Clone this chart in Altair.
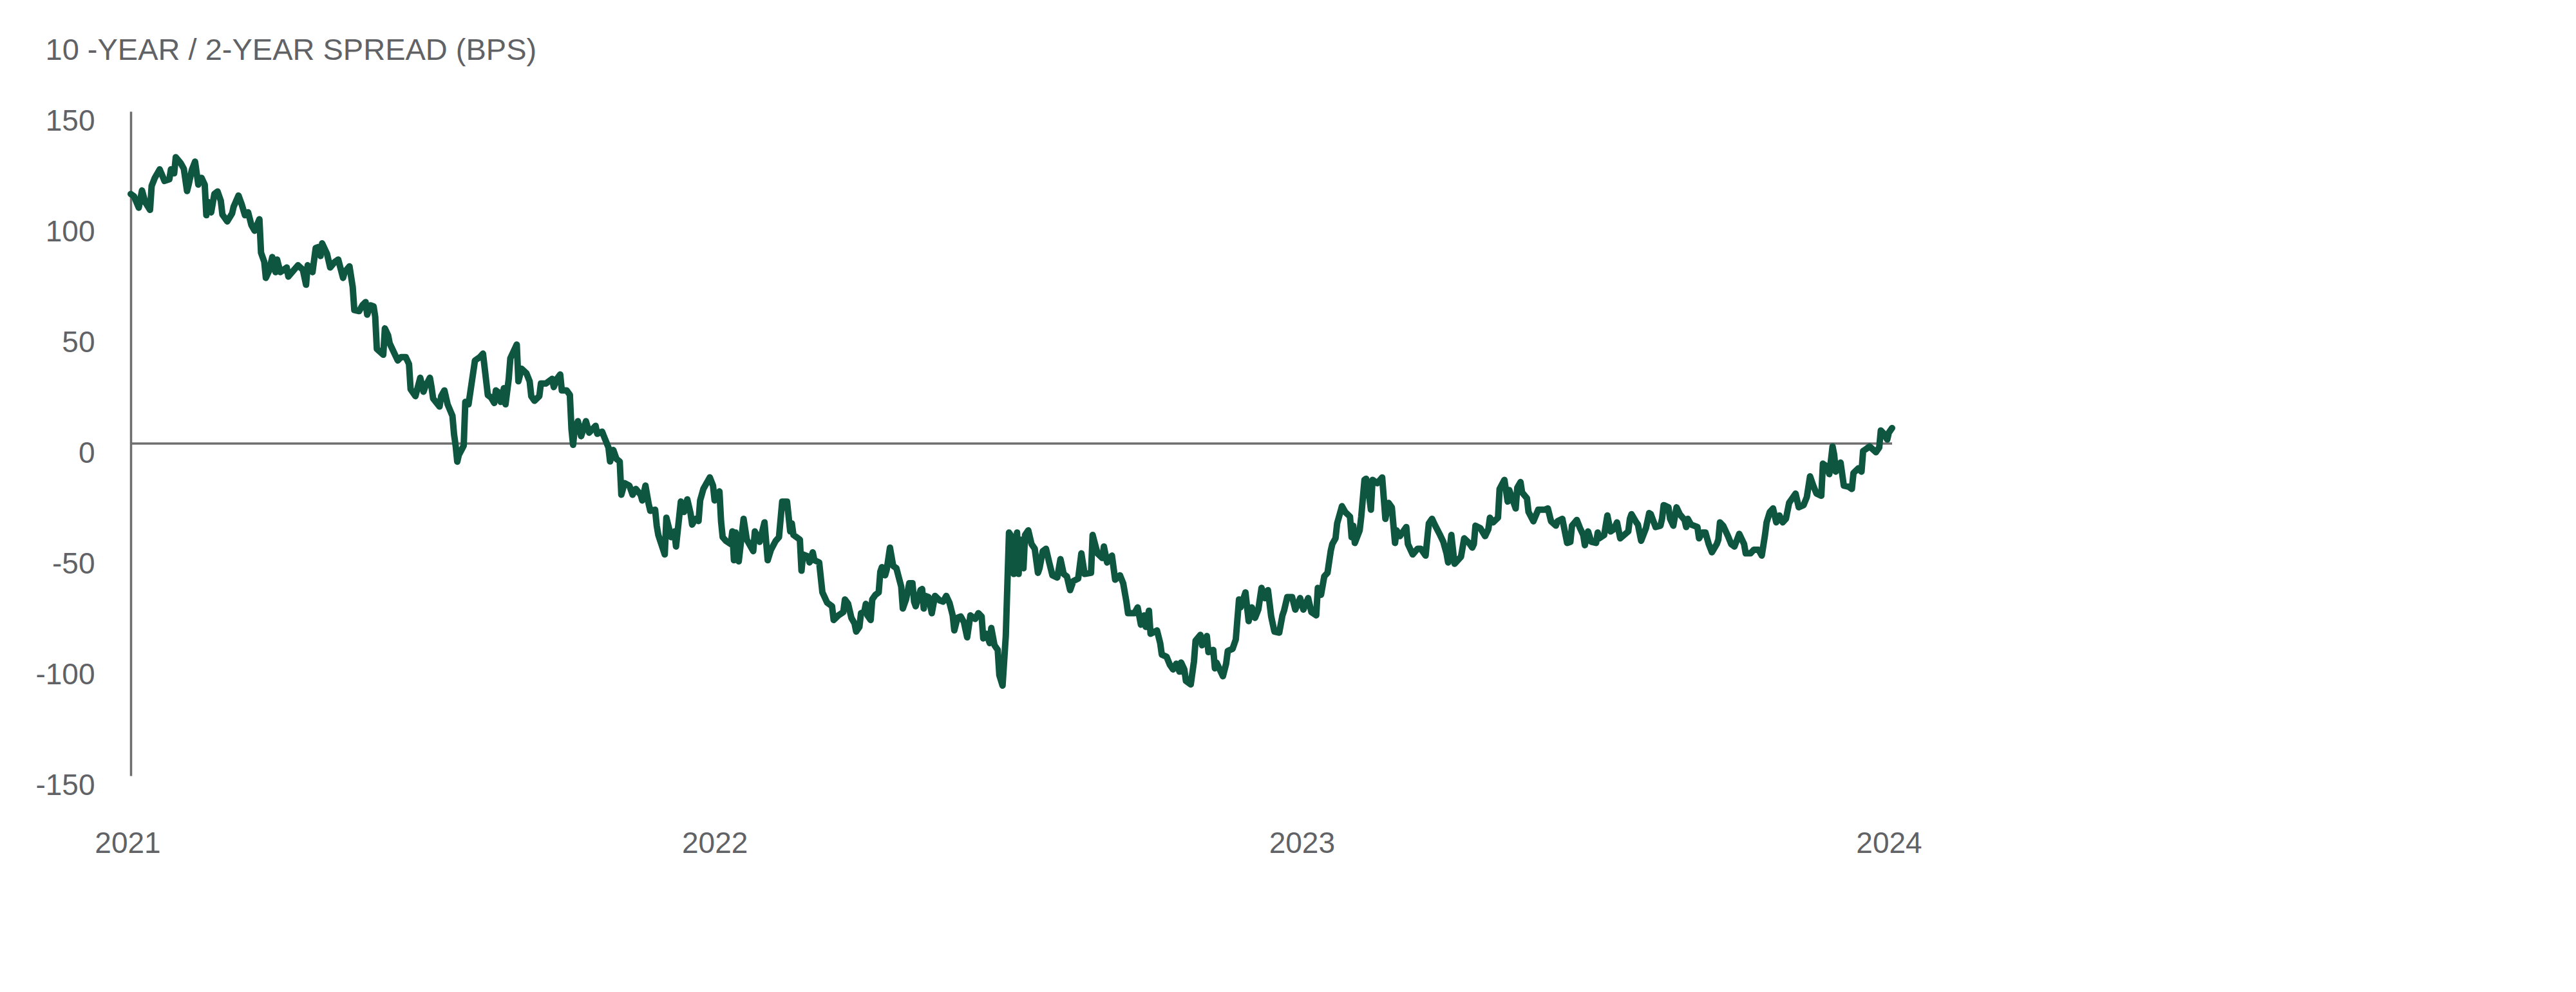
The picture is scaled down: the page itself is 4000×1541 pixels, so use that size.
import altair as alt
import pandas as pd

# Days since 2021-01-01 and spread in bps
day_offsets = [
    0, 2, 5, 7, 9, 12, 13, 15, 18, 21, 24, 25, 27, 28, 31, 33, 35, 36, 38, 40,
    42, 44, 46, 47, 48, 50, 52, 54, 56, 57, 60, 63, 64, 67, 69, 71, 73, 75, 77, 80,
    81, 83, 84, 86, 88, 90, 91, 93, 97, 98, 101, 104, 107, 109, 110, 113, 115, 117, 118, 119,
    122, 124, 127, 129, 132, 133, 136, 138, 139, 142, 144, 146, 147, 149, 151, 152, 153, 157, 158, 160,
    161, 164, 166, 168, 171, 173, 174, 177, 180, 182, 183, 186, 187, 188, 192, 193, 195, 197, 200, 201,
    202, 203, 204, 207, 208, 210, 214, 217, 219, 222, 224, 226, 227, 229, 230, 232, 233, 235, 236, 240,
    241, 243, 246, 248, 249, 251, 254, 255, 258, 259, 262, 263, 265, 267, 268, 271, 273, 274, 275,
    276, 278, 280, 283, 285, 289, 290, 293, 295, 297, 298, 300, 302, 304, 305, 307, 310, 312, 314, 317,
    318, 320, 322, 323, 326, 327, 328, 332, 333, 336, 338, 339, 342, 344, 346, 348, 349, 351, 353, 354,
    356, 360, 362, 363, 366, 367, 368, 370, 373, 374, 375, 376, 378, 381, 383, 387, 388, 391, 394, 396,
    398, 401, 403, 405, 408, 410, 411, 412, 416, 417, 418, 421, 422, 424, 425, 428, 430, 433, 436, 437,
    440, 443, 444, 446, 448, 450, 451, 453, 454, 456, 457, 458, 460, 461, 463, 465, 466, 467, 469, 470,
    472, 474, 476, 479, 480, 482, 484, 486, 487, 488, 491, 492, 493, 494, 496, 498, 500, 503, 505, 507,
    509, 511, 512, 514, 516, 518, 520, 522, 525, 527, 529, 530, 532, 534, 535, 537, 539, 540, 542, 544,
    546, 547, 549, 551,
    552, 553, 555, 556, 558, 560, 562, 564, 565, 567, 569, 571, 573, 576, 578, 580, 582, 584, 586, 589,
    591, 593, 597, 598, 601, 604, 605, 607, 610, 612, 615, 617, 619, 620, 624, 626, 628, 630, 631, 633,
    634, 638, 640, 641, 644, 646, 648, 650, 652, 653, 655, 656, 659, 661, 662, 665, 666, 669, 670, 673,
    674, 675, 679, 681, 682, 685, 687, 689, 690, 693, 695, 697, 699, 701, 703, 705, 707, 709, 711, 714,
    716, 717, 719, 722, 724, 727, 729, 732, 734, 737, 738, 740, 742, 744, 746, 747, 749, 750, 752, 753,
    755, 758, 759, 760, 761, 764, 765, 767, 768, 769, 771, 772, 775, 778, 780, 782, 784, 786, 787, 789,
    793, 794, 797, 800, 802, 805, 807, 809, 811, 814, 816, 818, 819, 821, 823, 825,
    827, 829, 832, 834, 835, 836, 839, 842, 844, 845, 847, 850, 851, 854, 856, 857, 861, 862, 864, 865,
    868, 869, 872, 875, 877, 879, 881, 883, 886, 887, 890, 893, 895, 896, 899, 901, 903, 904, 906, 908,
    911, 912, 913, 916, 918, 920, 922, 924, 926, 931, 932, 933, 936, 937, 939, 942, 944, 945, 948, 951,
    952, 953, 956, 957, 959, 961, 963, 966, 967, 968, 970, 974, 975, 977, 979, 981, 983, 986, 987, 988,
    990, 993, 995, 997, 1000, 1003, 1004, 1007, 1009, 1012, 1014, 1016, 1017, 1019, 1021, 1023, 1025, 1027, 1029, 1031,
    1035, 1037, 1040, 1042, 1044, 1046, 1048, 1051, 1052, 1054, 1056, 1058, 1059, 1060, 1063, 1065, 1068, 1070, 1071, 1074,
    1076, 1077, 1079, 1081, 1085, 1087, 1088, 1090, 1092, 1093, 1095,
]

spread_bps = [
    112.7, 111.7, 106.5, 114.3, 109.0, 105.5, 116.3, 120.0, 123.8, 118.6, 119.3, 123.8, 122.0, 129.3, 126.7, 124.1, 114.0, 116.9, 123.6, 127.3,
    116.9, 120.0, 116.9, 103.1, 109.1, 104.4, 112.7, 113.8, 109.6, 103.4, 100.3, 103.9, 107.0, 112.0, 108.0, 103.1, 104.4, 98.7, 96.1, 101.3,
    86.2, 82.1, 74.8, 78.0, 84.2, 77.4, 83.1, 77.4, 79.5, 75.4, 78.0, 80.5, 78.5, 71.7, 80.5, 77.4, 88.3, 88.8, 84.7, 90.4,
    85.7, 79.5, 82.1, 83.1, 74.8, 77.4, 80.0, 70.7, 60.3, 59.8, 62.4, 63.9, 58.2, 62.4, 61.9, 57.2, 42.7, 40.1, 52.0, 48.9,
    45.2, 40.6, 37.5, 39.0, 39.0, 35.9, 24.5, 21.4, 29.7, 23.4, 25.5, 29.7, 25.5, 20.3, 16.7, 21.4, 24.0, 17.7, 12.5, 4.2,
    -1.0, -8.2, -5.1, -1.0, 18.8, 17.7, 37.5, 39.0, 40.6, 21.9, 20.8, 18.3, 24.0, 22.9, 18.8, 25.0, 17.7, 29.2, 38.5, 44.7,
    28.1, 33.8, 31.7, 28.1, 21.4, 19.3, 21.4, 27.1, 27.1, 27.6, 29.2, 25.5, 29.2, 31.2, 24.0, 24.0, 22.0, 6.5, -0.6,
    6.5, 10.1, 3.3, 10.1, 4.9, 8.0, 4.4, 5.4, 1.8, -1.8, -8.1, -2.9, -7.0, -8.1, -23.1, -17.9, -19.0, -23.1, -20.5, -23.1,
    -25.7, -19.0, -27.3, -30.4, -29.9, -37.1, -41.3, -50.1, -33.5, -42.3, -39.7, -46.5, -26.2, -30.9, -25.2, -31.4, -36.6, -34.0, -35.0, -25.7,
    -20.5, -15.3, -19.0, -25.7, -21.6, -35.1, -42.3, -43.9, -45.4, -39.7, -52.7, -40.2, -53.2, -34.0, -43.4, -48.6, -39.7, -44.4, -35.6, -52.7,
    -48.0, -43.9, -42.3, -26.2, -26.2, -39.7, -36.1, -41.3, -43.4, -57.4, -50.1, -51.0, -53.7, -49.1, -52.7, -53.7, -67.2, -71.9, -73.5, -79.7,
    -77.6, -76.1, -70.4, -72.4, -78.7, -81.3, -84.9, -82.8, -76.6, -76.1, -72.4, -77.6, -79.7, -70.4, -68.3, -67.2, -57.9, -55.8, -59.5, -56.9,
    -47.0, -55.3, -56.3, -64.6, -74.5, -70.4, -63.1, -63.1, -71.4, -73.5, -66.2, -65.7, -74.5, -68.8, -69.3, -76.6, -68.8, -70.9, -71.4, -68.8,
    -71.9, -77.6, -84.4, -78.7, -78.1, -80.7, -87.5, -77.6, -79.2, -76.6, -78.1, -88.0, -85.9, -90.1, -83.3, -91.1, -93.2, -104.6, -109.3, -87.0,
    -40.2, -41.3, -58.9, -40.2,
    -58.9, -43.4, -56.3, -41.3, -39.2, -45.4, -47.5, -58.4, -56.3, -48.6, -47.5, -53.7, -59.5, -60.5, -52.2, -58.9, -60.0, -66.2, -62.1, -61.0,
    -49.6, -58.9, -58.4, -41.3, -49.6, -51.7, -46.5, -53.7, -50.6, -61.5, -59.5, -63.1, -71.4, -76.6, -76.6, -74.0, -81.8, -77.6, -82.8, -75.5,
    -85.9, -84.4, -90.1, -95.3, -96.3, -99.9, -102.0, -99.4, -103.0, -98.9, -102.0, -107.2, -108.8, -98.4, -89.0, -86.4, -91.1, -86.9, -94.2, -93.2,
    -101.5, -98.9, -105.1, -99.4, -93.7, -92.7, -88.5, -70.4, -74.0, -67.2, -80.2, -74.0, -78.7, -75.0, -65.2, -69.8, -66.2, -78.1, -84.9, -85.4,
    -77.6, -75.5, -69.3, -69.3, -75.0, -69.8, -75.0, -69.8, -76.1, -77.6, -65.2, -68.3, -60.0, -58.4, -48.6, -45.4, -42.8, -36.1, -30.9, -28.3,
    -30.9, -33.0, -42.3, -37.1, -44.9, -39.2, -33.0, -16.4, -15.9, -18.4, -29.9, -16.4, -17.9, -15.3, -34.0, -26.8, -28.8, -44.9, -39.2, -41.8,
    -37.7, -45.4, -50.1, -47.5, -47.5, -50.6, -36.1, -34.0, -37.1, -41.3, -44.4, -49.6, -53.7, -41.3, -54.3, -52.7,
    -51.1, -42.8, -44.9, -47.0, -45.4, -37.1, -38.2, -41.8, -38.7, -33.5, -35.6, -33.5, -20.5, -16.4, -26.2, -21.0, -29.3, -20.0, -17.4, -22.1,
    -24.7, -30.9, -35.1, -29.9, -29.9, -29.9, -29.3, -35.1, -37.1, -35.1, -34.0, -44.9, -44.4, -37.1, -34.5, -38.2, -41.3, -45.9, -39.7, -44.4,
    -44.9, -40.2, -42.8, -41.3, -32.5, -39.7, -38.7, -35.6, -42.8, -39.7, -34.0, -31.9, -35.6, -36.6, -43.9, -38.2, -31.4, -31.9, -37.7, -37.1,
    -34.0, -27.8, -28.8, -34.0, -37.1, -28.8, -31.9, -34.5, -37.7, -34.0, -36.6, -37.7, -42.8, -40.2, -40.2, -45.4, -49.1, -45.4, -43.4, -35.6,
    -37.1, -41.8, -45.4, -46.5, -40.8, -45.4, -49.6, -49.6, -48.0, -48.0, -50.6, -41.3, -35.6, -30.9, -29.3, -35.6, -32.5, -35.6, -34.0, -26.8,
    -22.6, -28.8, -27.8, -24.2, -14.8, -19.0, -22.6, -23.6, -9.1, -10.1, -13.8, -1.3, -5.0, -12.7, -8.6, -19.0, -19.5, -20.5, -13.3, -11.2,
    -12.7, -3.4, -2.4, -1.3, -3.9, -1.8, 5.9, 4.4, 1.8, 4.9, 7.0,
]

year_ticks = [2021, 2022, 2023, 2024]
y_ticks = [-150, -100, -50, 0, 50, 100, 150]
title_text = "10 -YEAR / 2-YEAR SPREAD (BPS)"

assert len(day_offsets) == len(spread_bps)

dates = pd.Timestamp("2021-01-01") + pd.to_timedelta(day_offsets, unit="D")
df = pd.DataFrame({"date": dates, "spread": spread_bps})
zero_df = pd.DataFrame({"zero": [0]})

FONT = "Liberation Sans"
TEXT = "#606266"
GRAY = "#6e6e6e"
GREEN = "#0f5641"

x_scale = alt.Scale(
    domain=[alt.DateTime(year=year_ticks[0], month=1, date=1),
            alt.DateTime(year=year_ticks[-1], month=1, date=1)],
    nice=False,
)
y_scale = alt.Scale(domain=[y_ticks[0], y_ticks[-1]], nice=False)

x_axis = alt.Axis(
    values=[alt.DateTime(year=y, month=1, date=1) for y in year_ticks],
    format="%Y",
    title=None,
    domain=False,
    ticks=False,
    grid=False,
    labelFont=FONT,
    labelFontSize=46,
    labelColor=TEXT,
    labelBaseline="middle",
    labelPadding=105,
    labelOffset=-5,
    labelFlush=False,
    labelOverlap=False,
)

y_axis = alt.Axis(
    values=y_ticks,
    labelExpr="toString(datum.value)",
    title=title_text,
    titleAngle=0,
    titleAlign="left",
    titleBaseline="middle",
    titleX=-133,
    titleY=-95,
    titleFont=FONT,
    titleFontSize=47,
    titleFontWeight="normal",
    titleColor=TEXT,
    domain=True,
    domainColor=GRAY,
    domainWidth=3.5,
    ticks=False,
    tickSize=0,
    grid=False,
    labelFont=FONT,
    labelFontSize=46,
    labelColor=TEXT,
    labelPadding=56,
    labelOffset=15,
    labelFlush=False,
    labelOverlap=False,
)

zero_rule = alt.Chart(zero_df).mark_rule(color=GRAY, strokeWidth=3.5).encode(
    y=alt.Y("zero:Q", scale=y_scale, axis=y_axis)
)

line = alt.Chart(df).mark_line(
    color=GREEN, strokeWidth=10, strokeJoin="round", strokeCap="round"
).encode(
    x=alt.X("date:T", scale=x_scale, axis=x_axis),
    y=alt.Y("spread:Q", scale=y_scale, axis=y_axis),
)

chart = alt.layer(zero_rule, line).properties(
    width=2735,
    height=1032,
    autosize=alt.AutoSizeParams(type="none"),
    padding={"left": 203, "top": 173, "right": 1062, "bottom": 336},
    background="white",
).configure_view(stroke=None)

chart.save("out.html", embed_options={"renderer": "svg", "actions": False})
